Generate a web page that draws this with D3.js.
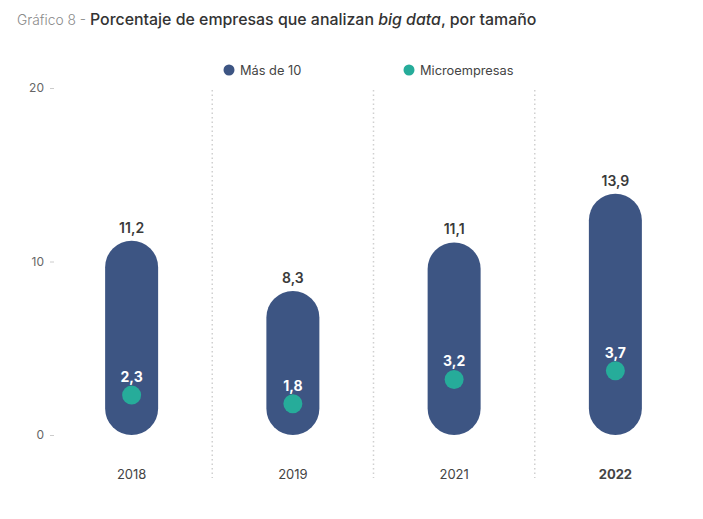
<!DOCTYPE html>
<html><head><meta charset="utf-8">
<script src="https://cdn.jsdelivr.net/npm/d3@7"></script>
<style>body{margin:0;background:#fff;}svg{display:block;font-family:Inter,"Noto Sans",sans-serif;}</style>
</head><body>
<script>
const categories = ["2018", "2019", "2021", "2022"];
const masDe10 = [11.2, 8.3, 11.1, 13.9];
const micro = [2.3, 1.8, 3.2, 3.7];
const yTicks = [0, 10, 20];
const seriesNames = ["Más de 10", "Microempresas"];
const colors = ["#3d5583", "#26ac9a"];

const W = 703, H = 519;
const svg = d3.select("body").append("svg").attr("width", W).attr("height", H);

const x = d3.scaleBand().domain(categories).range([51, 696]).padding(0);
const y = d3.scaleLinear().domain([0, 20]).range([435, 88]);
const fmt = v => String(v).replace(".", ",");

// title
const t = svg.append("text").attr("x", 17).attr("y", 25);
t.append("tspan").attr("fill", "#8a8a8a").attr("font-weight", 300).attr("font-size", 13.8).text("Gráfico 8 - ");
t.append("tspan").attr("fill", "#333").attr("font-weight", 500).attr("font-size", 15.9).text("Porcentaje de empresas que analizan ");
t.append("tspan").attr("fill", "#333").attr("font-weight", 500).attr("font-size", 15.9).attr("font-style", "italic").text("big data");
t.append("tspan").attr("fill", "#333").attr("font-weight", 500).attr("font-size", 15.9).text(", por tamaño");

// legend
const legX = [229, 409];
seriesNames.forEach((n, i) => {
  svg.append("circle").attr("cx", legX[i]).attr("cy", 70).attr("r", 5.5).attr("fill", colors[i]);
  svg.append("text").attr("x", legX[i] + 11).attr("y", 74.5).attr("font-size", 12.8)
    .attr("fill", "#444").text(n);
});

// y axis
const yAxis = d3.axisLeft(y).tickValues(yTicks).tickSize(4).tickPadding(6).tickFormat(d => d);
const ya = svg.append("g").attr("transform", "translate(54,0)").call(yAxis);
ya.select(".domain").remove();
ya.selectAll(".tick line").attr("stroke", "#ccc");
ya.selectAll(".tick text").attr("fill", "#666").attr("font-size", 12).attr("font-family", "Inter,sans-serif");

// separators
categories.slice(1).forEach(c => {
  svg.append("line").attr("x1", x(c)).attr("x2", x(c)).attr("y1", 90).attr("y2", 478)
    .attr("stroke", "#d0d0d0").attr("stroke-width", 1.5).attr("stroke-dasharray", "1.5,3");
});

// x labels
const xAxis = d3.axisBottom(x).tickSize(0).tickPadding(0);
const xa = svg.append("g").attr("transform", "translate(0,470)").call(xAxis);
xa.select(".domain").remove();
xa.selectAll(".tick text").attr("fill", "#444").attr("font-size", 13).attr("font-family", "Inter,sans-serif")
  .attr("font-weight", d => d === "2022" ? 700 : 400);

const bw = 53;
// pills
svg.selectAll("rect.bar").data(categories).enter().append("rect")
  .attr("x", d => x(d) + x.bandwidth() / 2 - bw / 2)
  .attr("y", (d, i) => y(masDe10[i]))
  .attr("width", bw)
  .attr("height", (d, i) => y(0) - y(masDe10[i]))
  .attr("rx", bw / 2).attr("ry", bw / 2)
  .attr("fill", colors[0]);

svg.selectAll("text.vlab").data(categories).enter().append("text")
  .attr("x", d => x(d) + x.bandwidth() / 2)
  .attr("y", (d, i) => y(masDe10[i]) - 8)
  .attr("text-anchor", "middle").attr("font-size", 14).attr("font-weight", 600).attr("fill", "#3a3a3a")
  .text((d, i) => fmt(masDe10[i]));

// dots
svg.selectAll("circle.dot").data(categories).enter().append("circle")
  .attr("cx", d => x(d) + x.bandwidth() / 2)
  .attr("cy", (d, i) => y(micro[i]))
  .attr("r", 9.5).attr("fill", colors[1]);

svg.selectAll("text.mlab").data(categories).enter().append("text")
  .attr("x", d => x(d) + x.bandwidth() / 2)
  .attr("y", (d, i) => y(micro[i]) - 13)
  .attr("text-anchor", "middle").attr("font-size", 14).attr("font-weight", 700).attr("fill", "#fff")
  .text((d, i) => fmt(micro[i]));
</script>
</body></html>
